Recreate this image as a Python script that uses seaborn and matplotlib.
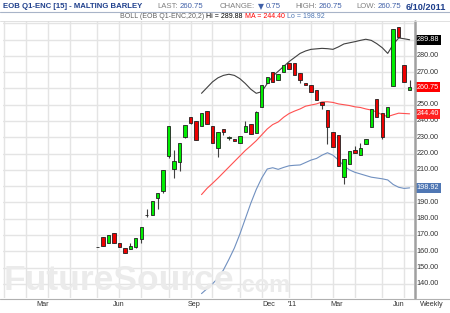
import matplotlib
matplotlib.use("Agg")
import matplotlib.pyplot as plt
import matplotlib.transforms as mtransforms
from matplotlib.lines import Line2D
from matplotlib import font_manager
import seaborn as sns
import pandas as pd

# ---------------- data (weekly bars, index 0 = week of 7 May 2010) -------------
weeks = list(range(58))
opens = [162.8, 168.6, 164.9, 171.0, 164.9, 162.0, 161.2, 162.8, 167.4, 182.0,
         182.3, 192.5, 196.8, 218.5, 210.3, 215.0, 230.4, 242.6, 240.0, 236.9,
         246.1, 237.1, 223.2, 235.3, 229.7, 229.1, 226.3, 233.1, 238.0, 232.4,
         248.4, 263.6, 270.0, 265.2, 270.3, 275.8, 275.8, 269.3, 263.6, 262.1,
         259.0, 251.8, 246.8, 233.0, 231.4, 205.4, 213.6, 222.4, 219.3, 225.9,
         236.1, 253.3, 245.1, 242.3, 261.5, 297.9, 274.4, 259.0]
highs = [162.8, 168.6, 169.8, 171.0, 164.9, 162.0, 165.3, 168.0, 174.7, 185.8,
         190.9, 195.6, 209.9, 236.9, 222.0, 226.7, 237.5, 242.6, 240.0, 245.1,
         246.1, 237.1, 233.1, 235.3, 230.5, 229.1, 230.8, 240.2, 238.0, 246.1,
         262.1, 267.3, 270.0, 268.9, 274.4, 275.8, 275.8, 269.3, 263.6, 262.1,
         259.0, 251.8, 246.8, 233.0, 231.4, 216.5, 221.4, 224.5, 226.7, 228.8,
         247.2, 253.3, 245.1, 248.5, 296.3, 297.9, 274.4, 265.0]
lows = [162.8, 163.3, 164.9, 164.9, 162.8, 158.8, 161.2, 162.2, 165.0, 180.9,
        182.3, 185.8, 196.0, 217.0, 205.0, 209.5, 229.4, 238.0, 228.3, 236.9,
        238.2, 226.3, 218.1, 231.4, 228.5, 227.5, 226.3, 233.1, 231.8, 232.4,
        248.4, 263.6, 263.9, 265.2, 270.3, 271.9, 268.2, 263.1, 262.0, 258.0,
        253.0, 247.2, 225.9, 224.3, 212.6, 201.3, 213.6, 220.6, 219.3, 225.9,
        236.1, 242.6, 229.0, 242.3, 261.5, 291.4, 264.2, 259.0]
closes = [162.8, 163.3, 169.8, 164.9, 162.8, 158.8, 163.3, 168.0, 174.7, 182.5,
          190.9, 195.6, 209.9, 236.9, 215.6, 226.7, 237.5, 239.0, 228.3, 245.1,
          238.2, 226.3, 233.1, 233.4, 230.3, 227.5, 230.8, 237.1, 231.8, 245.3,
          262.1, 267.3, 263.9, 268.9, 274.4, 271.9, 268.2, 265.2, 262.0, 258.0,
          253.0, 249.6, 236.5, 224.3, 212.6, 216.5, 221.4, 220.6, 223.2, 228.8,
          247.2, 242.6, 230.0, 248.5, 296.3, 291.4, 264.2, 260.75]

boll_weeks = list(range(19, 58))
boll_upper = [257.0, 260.5, 264.0, 266.5, 268.0, 268.7, 268.0, 266.0, 263.0, 259.5,
              257.0, 258.0, 263.0, 267.5, 270.5, 273.5, 276.5, 279.0, 281.5, 283.0,
              284.0, 284.3, 284.6, 284.4, 284.0, 285.5, 287.3, 288.0, 288.7, 289.5,
              290.2, 289.5, 287.5, 285.0, 281.5, 287.0, 291.0, 290.5, 289.88]
boll_ma = [194.8, 198.6, 201.7, 204.9, 208.3, 211.7, 215.1, 218.5, 221.9, 224.8,
           227.9, 231.5, 235.1, 237.8, 239.4, 242.3, 244.6, 246.1, 247.4, 249.1,
           249.8, 250.5, 251.7, 251.8, 251.4, 250.5, 250.0, 249.5, 248.7, 248.3,
           247.4, 246.7, 245.5, 243.8, 242.7, 243.8, 244.8, 244.6, 244.4]
boll_lower = [134.0, 137.0, 140.0, 143.5, 148.5, 155.0, 162.0, 170.5, 180.0, 189.5,
              198.0, 205.0, 210.5, 211.3, 210.3, 211.5, 212.5, 212.8, 213.0, 214.5,
              216.0, 217.0, 219.0, 220.5, 219.0, 216.0, 212.5, 210.0, 208.5, 207.5,
              206.5, 205.5, 205.0, 204.5, 203.8, 201.0, 199.3, 198.6, 198.92]

y_ticks = [140, 150, 160, 170, 180, 190, 210, 220, 230, 240, 250, 270, 280]
y_grid = [140, 150, 160, 170, 180, 190, 200, 210, 220, 230, 240, 250, 260, 270, 280, 290, 300]
month_grid = [-17, -13, -9, -5, 0, 4, 8, 13, 17, 21, 26, 30, 35, 39, 43, 47, 52, 56]
month_labels = ["Mar", "Jun", "Sep", "Dec", "'11", "Mar", "Jun"]
month_label_pos = [-10, 3.8, 17.6, 31.3, 35.5, 43.6, 55.0]
last_boxes = [("289.88", 289.88, "#000000"), ("260.75", 260.75, "#ff0000"),
              ("244.40", 244.40, "#ff2020"), ("198.92", 198.92, "#4f77b4")]

# ---------------- figure ----------------
sns.set_style("white")
plt.rcParams['font.family'] = ['Liberation Sans', 'DejaVu Sans']

installed = {f.name for f in font_manager.fontManager.ttflist}
wm_family = ['Liberation Sans Narrow', 'Liberation Sans'] if 'Liberation Sans Narrow' in installed \
    else ['Liberation Sans']

W, H = 450, 313
fig = plt.figure(figsize=(W / 100, H / 100), dpi=100)
fig.patch.set_facecolor("white")
renderer = fig.canvas.get_renderer()


def fx(px):
    return px / W


def fy(py):
    return 1 - py / H


def fit_width(t, target, base):
    bb = t.get_window_extent(renderer)
    if bb.width > 0:
        t.set_fontsize(base * target / bb.width)
    return t


def seq_text(x0, y, parts, gap=3.0, **kw):
    """Place text parts left-to-right starting at pixel x0."""
    x = x0
    for txt, col, extra in parts:
        opts = dict(kw)
        opts.update(extra)
        t = fig.text(fx(x), fy(y), txt, color=col, ha="left", va="center", **opts)
        bb = t.get_window_extent(renderer)
        x = x + bb.width + gap


plot_left, plot_right, plot_top, plot_bottom = 3, 414, 21, 298
ax = fig.add_axes([fx(plot_left), fy(plot_bottom), (plot_right - plot_left) / W,
                   (plot_bottom - plot_top) / H])
ax.set_xlim(-17.25, 57.8)
ax.set_ylim(131.3, 301.4)
for s in ax.spines.values():
    s.set_visible(False)
ax.set_xticks([])
ax.set_yticks([])
ax.patch.set_alpha(0)

# watermark
wm = fig.text(fx(4), fy(297), "FutureSource", fontsize=29, family=wm_family,
              fontweight="bold", color="#ebebeb", ha="left", va="bottom", zorder=0)
fit_width(wm, 230.0, 29)
bb = wm.get_window_extent(renderer)
fig.text(fx(4 + bb.width + 1), fy(297), ".com", fontsize=17, family=wm_family,
         fontweight="bold", color="#ebebeb", ha="left", va="bottom", zorder=0)

# grid
grid_c = "#e4e4e4"
for g in month_grid:
    ax.axvline(g, color=grid_c, lw=1.0, zorder=1)
for g in y_grid:
    ax.axhline(g, color=grid_c, lw=1.0, zorder=1)

# Bollinger bands
bdf = pd.DataFrame({"week": boll_weeks, "upper": boll_upper, "ma": boll_ma,
                    "lower": boll_lower})
sns.lineplot(data=bdf, x="week", y="upper", ax=ax, color="#404040", lw=0.8, zorder=2)
sns.lineplot(data=bdf, x="week", y="ma", ax=ax, color="#ff5050", lw=0.8, zorder=2)
sns.lineplot(data=bdf, x="week", y="lower", ax=ax, color="#7090c0", lw=0.8, zorder=2)

# candles
df = pd.DataFrame({"week": weeks, "open": opens, "high": highs, "low": lows,
                   "close": closes})
ax.vlines(df["week"], df["low"], df["high"], color="#404040", lw=0.8, zorder=3)
up = df["close"] >= df["open"]
bottoms = df[["open", "close"]].min(axis=1)
heights = (df["close"] - df["open"]).abs()
colors = ["#00ee00" if u else "#ee0000" for u in up]
ax.bar(df["week"], heights, bottom=bottoms, width=0.62, color=colors,
       edgecolor="#202020", linewidth=0.6, zorder=4)
ax.set_xlabel("")
ax.set_ylabel("")

# right axis labels
trans = ax.get_yaxis_transform()
for t in y_ticks:
    ax.text(1.006, t, f"{t:.2f}", transform=trans, fontsize=5.2, color="#333333",
            ha="left", va="center", clip_on=False)
for txt, val, col in last_boxes:
    ax.text(1.006, val, txt, transform=trans, fontsize=5.2, color="white",
            ha="left", va="center", clip_on=False, zorder=6,
            bbox=dict(boxstyle="square,pad=0.22", fc=col, ec="none"))

# x labels
xtrans = mtransforms.blended_transform_factory(ax.transData, fig.transFigure)
for lab, pos in zip(month_labels, month_label_pos):
    ax.text(pos, fy(305), lab, transform=xtrans, fontsize=5.2,
            color="#333333", ha="center", va="center", clip_on=False)
fig.text(fx(432), fy(305), "Weekly", fontsize=5.2, color="#333333", ha="center",
         va="center")

# frame lines
fig.add_artist(Line2D([fx(plot_right + 1)] * 2, [fy(plot_top), fy(plot_bottom)],
                      color="#a0a0a0", lw=1.8))
fig.add_artist(Line2D([0, 1], [fy(298.5)] * 2, color="#b0b0b0", lw=0.8))
fig.add_artist(Line2D([0, 1], [fy(12)] * 2, color="#a8b4c8", lw=0.8))
fig.add_artist(Line2D([0, 1], [fy(21)] * 2, color="#dcdcdc", lw=0.6))

# header
blue = "#1e3f8c"
title = fig.text(fx(3), fy(7), "EOB Q1-ENC [15] - MALTING BARLEY", fontsize=6.0,
                 fontweight="bold", color=blue, ha="left", va="center")
fit_width(title, 140.0, 6.0)
seq_text(157, 7, [("LAST:", "#808080", {}), ("260.75", "#4060a8", {})], gap=2.5, fontsize=5.6)
seq_text(220, 7, [("CHANGE:", "#808080", {}), ("\u25BC", "#4060a8", {"family": ["DejaVu Sans"]}),
                  ("0.75", "#4060a8", {})], gap=2.5, fontsize=5.6)
seq_text(295, 7, [("HIGH:", "#808080", {}), ("260.75", "#4060a8", {})], gap=2.5, fontsize=5.6)
seq_text(356, 7, [("LOW:", "#808080", {}), ("260.75", "#4060a8", {})], gap=2.5, fontsize=5.6)
fig.text(fx(446), fy(7), "6/10/2011", fontsize=6.6, fontweight="bold", color=blue,
         ha="right", va="center")
seq_text(120, 16.5, [("BOLL (EOB Q1-ENC,20,2)", "#606060", {}), ("Hi = 289.88", "#000000", {}),
                     ("MA = 244.40", "#ff0000", {}), ("Lo = 198.92", "#4f77b4", {})],
         gap=2.0, fontsize=5.0)

fig.savefig("out.png", dpi=100, facecolor="white")
